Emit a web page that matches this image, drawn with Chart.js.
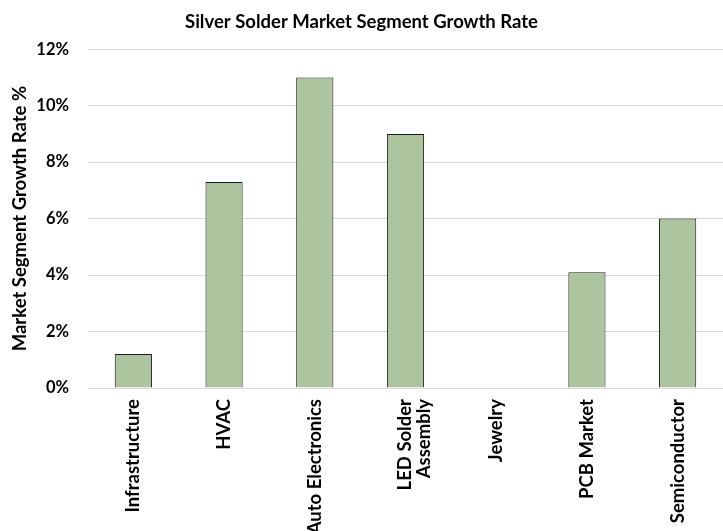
<!DOCTYPE html>
<html>
<head>
<meta charset="utf-8">
<script src="https://cdn.jsdelivr.net/npm/chart.js@4/dist/chart.umd.min.js"></script>
<style>
html,body{margin:0;padding:0;background:#fff;}
#wrap{width:723px;height:531px;position:relative;}
</style>
</head>
<body>
<div id="wrap"><canvas id="c"></canvas></div>
<script>
const categories = ['Infrastructure', 'HVAC', 'Auto Electronics', ['LED Solder', 'Assembly'], 'Jewelry', 'PCB Market', 'Semiconductor'];
const growthRate = [1.2, 7.3, 11.0, 9.0, 0, 4.1, 6.0];
const yTicks = [0, 2, 4, 6, 8, 10, 12];

const FONT = "Lato, 'Open Sans', sans-serif";
new Chart(document.getElementById('c'), {
  type: 'bar',
  data: {
    labels: categories,
    datasets: [{
      data: growthRate,
      backgroundColor: '#adc59f',
      borderColor: '#1a1a1a',
      borderWidth: 1,
      categoryPercentage: 1,
      barPercentage: 0.41
    }]
  },
  options: {
    responsive: true,
    maintainAspectRatio: false,
    animation: false,
    devicePixelRatio: 1,
    layout: {padding: {left: 0, right: 0, top: 0, bottom: 0}},
    plugins: {
      legend: {display: false},
      tooltip: {enabled: false},
      title: {
        display: true,
        text: 'Silver Solder Market Segment Growth Rate',
        color: '#000',
        font: {family: FONT, size: 18.5, weight: 'bold'},
        padding: {top: 11, bottom: 16}
      }
    },
    scales: {
      x: {
        grid: {display: false, drawTicks: false},
        border: {display: true, color: '#d9d9d9', width: 1},
        ticks: {
          color: '#000',
          font: {family: FONT, size: 18.5, weight: 'bold', lineHeight: 1.0},
          minRotation: 90, maxRotation: 90,
          autoSkip: false,
          padding: 11
        },
        afterFit: s => { s.height = 143; }
      },
      y: {
        min: 0, max: 12,
        afterBuildTicks: s => { s.ticks = yTicks.map(v => ({value: v})); },
        grid: {color: '#d9d9d9', drawTicks: false},
        border: {display: false},
        ticks: {
          color: '#000',
          font: {family: FONT, size: 16.5, weight: 'bold'},
          padding: 19,
          callback: v => v + '%'
        },
        title: {
          display: true,
          text: 'Market Segment Growth Rate %',
          color: '#000',
          font: {family: FONT, size: 18.5, weight: 'bold'},
          padding: {top: 9, bottom: 0}
        },
        afterFit: s => { s.width = 88; }
      }
    }
  }
});
</script>
</body>
</html>
